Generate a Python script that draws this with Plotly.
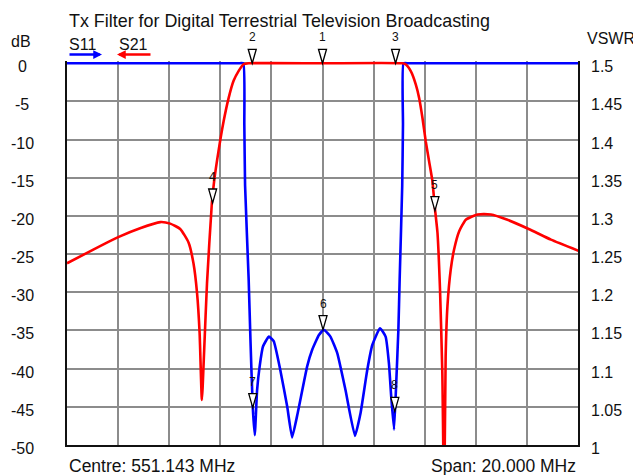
import plotly.graph_objects as go

# ---------------- data ----------------
title_text = "Tx Filter for Digital Terrestrial Television Broadcasting"
centre_label = "Centre: 551.143 MHz"
span_label = "Span: 20.000 MHz"

# frequency offset from centre (MHz) and level (dB)
s21_freq = [-10.0, -8.97, -7.95, -7.14, -6.35, -5.96, -5.57, -5.24, -5.05, -4.91,
            -4.81, -4.72, -4.63, -4.52, -4.33, -4.24, -4.07, -3.87, -3.67, -3.48,
            -3.28, -3.09, -2.89, 0.0, 3.12, 3.25, 3.45, 3.65, 3.78, 3.91,
            4.04, 4.17, 4.30, 4.40, 4.50, 4.60, 4.69, 4.76, 4.82, 4.89,
            5.02, 5.15, 5.35, 5.61, 6.07, 6.59, 7.24, 8.07, 8.94, 10.05]
s21_db = [-26.2, -24.4, -22.7, -21.6, -20.8, -21.0, -21.7, -23.5, -26.2, -30.1,
          -35.3, -44.1, -37.5, -28.8, -18.3, -15.4, -11.5, -7.6, -4.5, -2.3,
          -1.0, -0.13, 0.0, 0.0, 0.0, -0.13, -1.0, -2.75, -4.5, -7.1,
          -10.2, -12.8, -15.4, -19.0, -22.2, -29.7, -40.6, -58.0, -38.4, -31.8,
          -27.0, -24.4, -22.0, -20.5, -19.8, -19.8, -20.5, -21.7, -23.1, -24.6]

s11_freq = [-10.0, -6.0, -3.30, -3.10, -3.06, -3.03, -2.89, -2.82, -2.73, -2.65, -2.56,
            -2.46, -2.33, -2.10, -1.91, -1.65, -1.38, -1.19, -0.97, -0.60, -0.40,
            -0.14, 0.05, 0.31, 0.58, 0.90, 1.27, 1.49, 1.75, 1.95, 2.25,
            2.47, 2.60, 2.69, 2.80, 2.89, 2.97, 3.02, 3.12, 3.15, 3.17,
            3.37, 6.0, 10.0]
s11_db = [0.0, 0.0, 0.0, 0.0, -8.0, -16.0, -28.3, -36.2, -45.0, -48.7, -42.8,
          -39.7, -37.1, -35.8, -36.4, -40.2, -45.0, -49.0, -45.8, -39.7, -37.5,
          -35.6, -34.9, -35.8, -38.0, -42.8, -48.8, -45.8, -40.2, -36.9, -34.7,
          -35.8, -39.3, -43.7, -48.0, -41.5, -34.9, -28.3, -16.0, -8.0, 0.0,
          0.0, 0.0, 0.0]

marker_ids = ["1", "2", "3", "4", "5", "6", "7", "8"]
marker_freq = [0.0, -2.75, 2.86, -4.30, 4.40, 0.02, -2.73, 2.83]
marker_db = [0.0, 0.0, 0.0, -18.3, -19.3, -34.9, -45.1, -45.6]

db_ticks = [0, -5, -10, -15, -20, -25, -30, -35, -40, -45, -50]
db_tick_labels = ["0", "-5", "-10", "-15", "-20", "-25", "-30", "-35", "-40", "-45", "-50"]
vswr_tick_labels = ["1.5", "1.45", "1.4", "1.35", "1.3", "1.25", "1.2", "1.15", "1.1", "1.05", "1"]
freq_grid = [-10, -8, -6, -4, -2, 0, 2, 4, 6, 8, 10]

# ---------------- figure ----------------
FONT = "Liberation Sans, Arial, sans-serif"
OFF = 8                      # page body margin offset
W, H = 641 - OFF, 475 - OFF
PLOT_L, PLOT_R, PLOT_T, PLOT_B = 67, 578, 61, 445   # window pixels
ML = PLOT_L - OFF
MT = PLOT_T - OFF
PW = PLOT_R - PLOT_L
PH = PLOT_B - PLOT_T
MR = W - ML - PW
MB = H - MT - PH
Y_RANGE = [-50, 0.3]


def px_x(px):
    return (px - PLOT_L) / PW


def px_y(py):
    return (PLOT_B - py) / PH


def db_to_paper(d):
    return (d - Y_RANGE[0]) / (Y_RANGE[1] - Y_RANGE[0])


fig = go.Figure()
fig.add_trace(go.Scatter(x=s11_freq, y=s11_db, mode="lines", name="S11",
                         line=dict(color="#0000ff", width=2.6, shape="spline", smoothing=0.4),
                         showlegend=False))
fig.add_trace(go.Scatter(x=s21_freq, y=s21_db, mode="lines", name="S21",
                         line=dict(color="#ff0000", width=2.6, shape="spline", smoothing=0.5),
                         showlegend=False))

shapes = []
annotations = []
for mid, f, d in zip(marker_ids, marker_freq, marker_db):
    shapes.append(dict(type="path", xref="x", yref="paper", xsizemode="pixel", ysizemode="pixel",
                       xanchor=f, yanchor=db_to_paper(d), path="M -4 14 L 4 14 L 0 0 Z",
                       fillcolor="white", line=dict(color="black", width=1.3), layer="above"))
    annotations.append(dict(x=f, y=d, xref="x", yref="y", text=mid, showarrow=False,
                            yshift=26, font=dict(family=FONT, size=12, color="#111")))

for v, lab, vl in zip(db_ticks, db_tick_labels, vswr_tick_labels):
    annotations.append(dict(x=px_x(22), y=v, xref="paper", yref="y", text=lab, showarrow=False,
                            xanchor="center", yanchor="middle", yshift=-3.5,
                            font=dict(family=FONT, size=16, color="#111")))
    annotations.append(dict(x=px_x(589), y=v, xref="paper", yref="y", text=vl, showarrow=False,
                            xanchor="left", yanchor="middle", yshift=-3.5,
                            font=dict(family=FONT, size=16, color="#111")))

annotations += [
    dict(x=px_x(67), y=px_y(21), xref="paper", yref="paper", text=title_text, showarrow=False,
         xanchor="left", yanchor="middle", font=dict(family=FONT, size=17.9, color="#111")),
    dict(x=px_x(21), y=px_y(41), xref="paper", yref="paper", text="dB", showarrow=False,
         xanchor="center", yanchor="middle", font=dict(family=FONT, size=16, color="#111")),
    dict(x=px_x(585), y=px_y(39), xref="paper", yref="paper", text="VSWR", showarrow=False,
         xanchor="left", yanchor="middle", font=dict(family=FONT, size=16, color="#111")),
    dict(x=px_x(67), y=px_y(45), xref="paper", yref="paper", text="S11", showarrow=False,
         xanchor="left", yanchor="middle", font=dict(family=FONT, size=16, color="#111")),
    dict(x=px_x(117), y=px_y(45), xref="paper", yref="paper", text="S21", showarrow=False,
         xanchor="left", yanchor="middle", font=dict(family=FONT, size=16, color="#111")),
    dict(x=px_x(102), y=px_y(54.5), xref="paper", yref="paper", text="", showarrow=True,
         ax=-34, ay=0, arrowhead=2, arrowsize=0.7, arrowwidth=2.5, arrowcolor="#0000ff",
         standoff=0),
    dict(x=px_x(117), y=px_y(54.5), xref="paper", yref="paper", text="", showarrow=True,
         ax=35, ay=0, arrowhead=2, arrowsize=0.7, arrowwidth=2.5, arrowcolor="#ff0000",
         standoff=0),
    dict(x=px_x(67), y=px_y(466), xref="paper", yref="paper", text=centre_label, showarrow=False,
         xanchor="left", yanchor="middle", font=dict(family=FONT, size=17.5, color="#111")),
    dict(x=px_x(578), y=px_y(466), xref="paper", yref="paper", text=span_label, showarrow=False,
         xanchor="right", yanchor="middle", font=dict(family=FONT, size=17.5, color="#111")),
]

fig.update_layout(
    width=W, height=H,
    margin=dict(l=ML, r=MR, t=MT, b=MB, pad=0),
    paper_bgcolor="white", plot_bgcolor="white",
    showlegend=False,
    shapes=shapes, annotations=annotations,
    xaxis=dict(range=[-10, 10], tickvals=freq_grid, showticklabels=False, ticks="",
               showgrid=True, gridcolor="#8c8c8c", gridwidth=1.5, zeroline=False,
               showline=True, linecolor="#111", linewidth=2),
    yaxis=dict(range=Y_RANGE, tickvals=db_ticks, showticklabels=False, ticks="",
               showgrid=True, gridcolor="#8c8c8c", gridwidth=1.5, zeroline=False,
               showline=True, linecolor="#111", linewidth=2, mirror=True),
)

fig.write_html("out.html")
